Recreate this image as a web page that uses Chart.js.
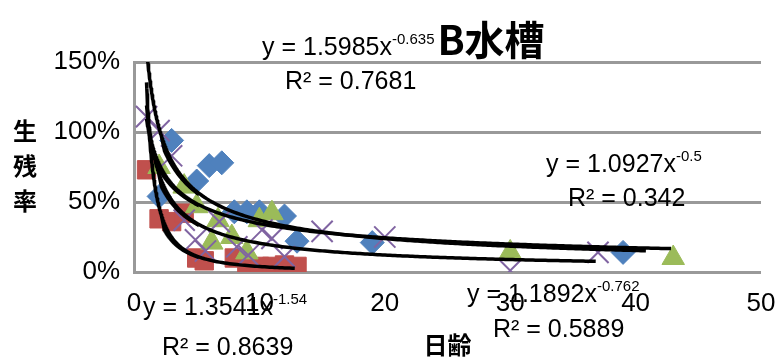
<!DOCTYPE html>
<html>
<head>
<meta charset="utf-8">
<script src="https://cdn.jsdelivr.net/npm/chart.js@4/dist/chart.umd.min.js"></script>
<style>
html,body{margin:0;padding:0;background:#fff;}
#c{display:block;}
</style>
</head>
<body>
<canvas id="c" width="778" height="363"></canvas>
<script>
// ---- data ----
const blueX   = [2, 3, 5, 6, 7, 8, 9, 10, 12, 13, 19, 39];
const blueY   = [0.54, 0.94, 0.65, 0.76, 0.78, 0.43, 0.43, 0.43, 0.40, 0.22, 0.21, 0.14];
const redX    = [1, 2, 3, 4, 5, 5.6, 8, 9, 10, 11, 12, 13];
const redY    = [0.73, 0.38, 0.36, 0.42, 0.10, 0.08, 0.10, 0.05, 0.04, 0.04, 0.05, 0.04];
const greenX  = [2, 4, 5, 6.2, 6.7, 7.8, 9, 10, 11, 30, 43];
const greenY  = [0.75, 0.61, 0.47, 0.21, 0.37, 0.25, 0.14, 0.37, 0.42, 0.14, 0.10];
const purpleX = [1, 2, 3, 4, 4.9, 5.7, 6.8, 8.2, 9.1, 10.2, 11, 12, 15, 20, 30, 37];
const purpleY = [1.11, 1.01, 0.83, 0.37, 0.23, 0.15, 0.36, 0.18, 0.12, 0.30, 0.24, 0.11, 0.29, 0.25, 0.01, 0.14];

// power trendlines y = a * x^b (from the equations printed on the chart)
const trendNames = ['blue', 'green', 'red', 'purple'];
const trendA     = [1.5985, 1.0927, 1.3541, 1.1892];
const trendB     = [-0.635, -0.5, -1.54, -0.762];
const trendR2    = ['0.7681', '0.342', '0.8639', '0.5889'];
const trendFrom  = [1, 1, 1, 1];
const trendTo    = [41, 43, 13, 37];

const xTicks = [0, 10, 20, 30, 40, 50];
const yTicks = [0, 0.5, 1.0, 1.5];

const toPts = (xs, ys) => xs.map((x, i) => ({x: x, y: ys[i]}));
function trendPts(i) {
  const pts = [];
  for (let x = trendFrom[i]; x <= trendTo[i] + 1e-9; x += (x < 5 ? 0.02 : 0.2)) {
    pts.push({x: x, y: trendA[i] * Math.pow(x, trendB[i])});
  }
  return pts;
}

const FONT = "'Liberation Sans', Arial, sans-serif";
const CJK = "'Noto Sans CJK JP', 'Noto Sans CJK SC', sans-serif";

const labels = [
  {eq: 'y = 1.5985x', ex: '-0.635', x: 262, y: 55, rx: 285, ry: 89, r: trendR2[0]},
  {eq: 'y = 1.0927x', ex: '-0.5',   x: 546, y: 172, rx: 568, ry: 206, r: trendR2[1]},
  {eq: 'y = 1.3541x', ex: '-1.54',  x: 143, y: 315, rx: 162, ry: 355, r: trendR2[2]},
  {eq: 'y = 1.1892x', ex: '-0.762', x: 467, y: 302, rx: 493, ry: 337, r: trendR2[3]}
];

const textPlugin = {
  id: 'texts',
  afterDraw(chart) {
    const ctx = chart.ctx;
    ctx.save();
    ctx.fillStyle = '#000';
    ctx.textBaseline = 'alphabetic';
    // title
    ctx.font = "bold 40px " + CJK;
    ctx.textAlign = 'center';
    ctx.fillText('B水槽', 491, 55);
    // y title stacked
    ctx.font = "bold 24px " + CJK;
    ['生', '残', '率'].forEach((ch, i) => ctx.fillText(ch, 25, 140 + i * 35));
    // equations
    ctx.textAlign = 'left';
    labels.forEach(l => {
      ctx.font = "25px " + FONT;
      ctx.fillText(l.eq, l.x, l.y);
      const w = ctx.measureText(l.eq).width;
      ctx.font = "15px " + FONT;
      ctx.fillText(l.ex, l.x + w, l.y - 11);
      ctx.font = "25px " + FONT;
      ctx.fillText('R² = ' + l.r, l.rx, l.ry);
    });
    ctx.restore();
  }
};

const scatterCommon = {type: 'scatter', showLine: false, pointBorderWidth: 1};

new Chart(document.getElementById('c'), {
  type: 'scatter',
  data: {
    datasets: [
      ...trendNames.map((n, i) => ({
        type: 'line', label: 'trend ' + n, data: trendPts(i), borderColor: '#000',
        borderWidth: 3.5, pointRadius: 0, fill: false, tension: 0, order: 0
      })),
      Object.assign({}, scatterCommon, {label: 'purple', data: toPts(purpleX, purpleY), pointStyle: 'crossRot',
        pointRadius: 15, borderColor: '#8064A2', pointBorderColor: '#8064A2', pointBorderWidth: 2, order: 1}),
      Object.assign({}, scatterCommon, {label: 'green', data: toPts(greenX, greenY), pointStyle: 'triangle',
        pointRadius: 13, backgroundColor: '#9BBB59', borderColor: '#9BBB59', order: 2}),
      Object.assign({}, scatterCommon, {label: 'red', data: toPts(redX, redY), pointStyle: 'rect',
        pointRadius: 13, backgroundColor: '#C0504D', borderColor: '#C0504D', order: 3}),
      Object.assign({}, scatterCommon, {label: 'blue', data: toPts(blueX, blueY), pointStyle: 'rectRot',
        pointRadius: 12, backgroundColor: '#4F81BD', borderColor: '#4F81BD', order: 4})
    ]
  },
  options: {
    responsive: false,
    animation: false,
    devicePixelRatio: 1,
    layout: {padding: {left: 0, top: 62, right: 0, bottom: 0}},
    plugins: {legend: {display: false}, tooltip: {enabled: false}, title: {display: false}},
    scales: {
      x: {
        type: 'linear', min: 0, max: 50,
        afterBuildTicks: s => { s.ticks = xTicks.map(v => ({value: v})); },
        afterFit: s => { s.height = 91; s.paddingRight = 15; },
        grid: {display: false, drawTicks: false},
        border: {display: false},
        ticks: {color: '#000', font: {family: FONT, size: 26}, padding: 16, maxRotation: 0},
        title: {display: true, text: '日齢', color: '#000', font: {family: CJK, size: 24, weight: 'bold'}, padding: {top: 0, bottom: 4}}
      },
      y: {
        type: 'linear', min: 0, max: 1.5,
        afterBuildTicks: s => { s.ticks = yTicks.map(v => ({value: v})); },
        afterFit: s => { s.width = 134; },
        grid: {color: '#999999', lineWidth: 3, drawTicks: false},
        border: {display: true, color: '#999999', width: 3},
        ticks: {color: '#000', font: {family: FONT, size: 26}, padding: 14,
          callback: v => Math.round(v * 100) + '%'}
      }
    }
  },
  plugins: [textPlugin]
});
</script>
</body>
</html>
